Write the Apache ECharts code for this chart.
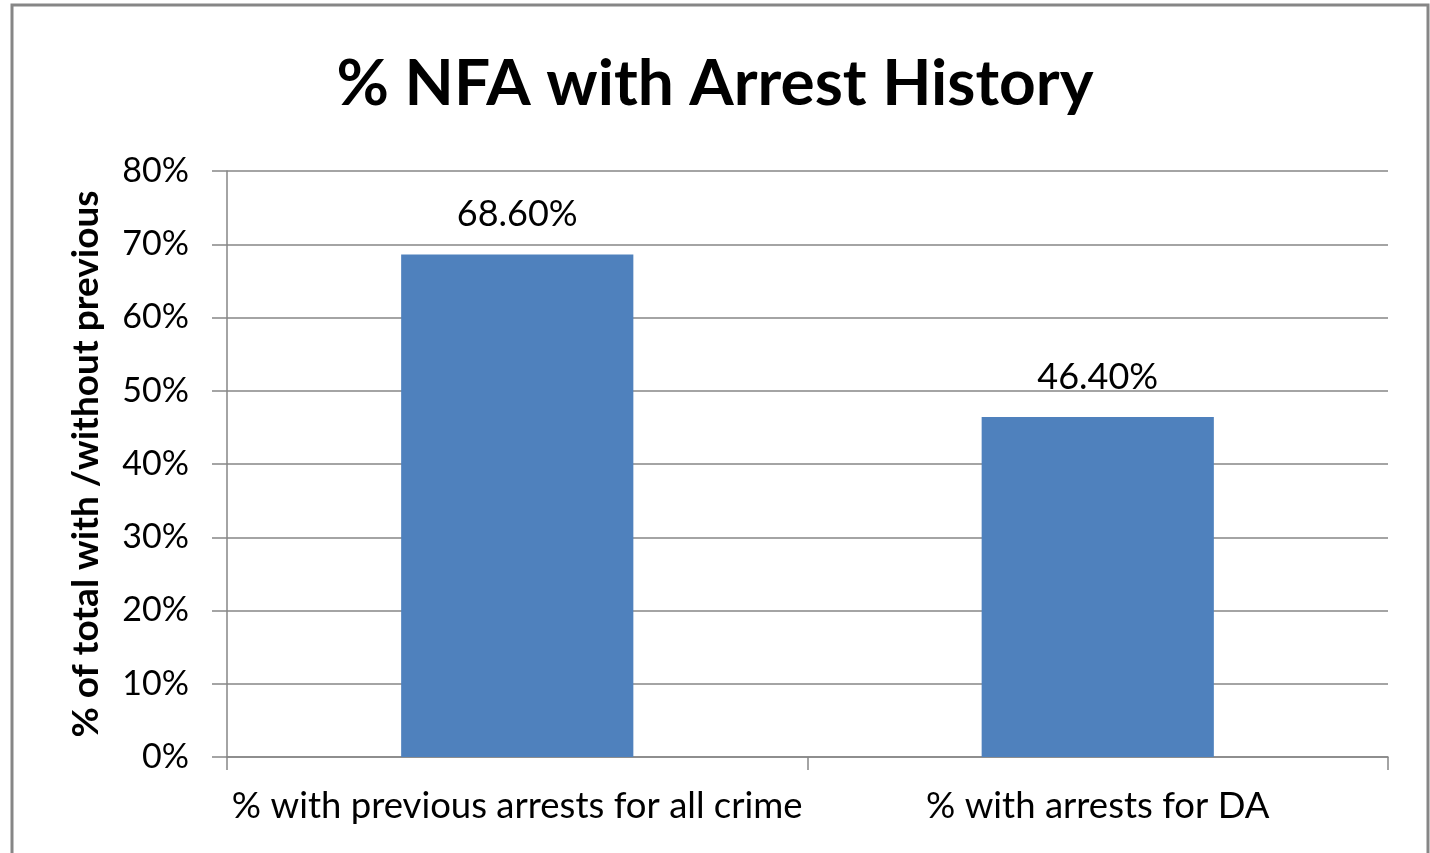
<!DOCTYPE html>
<html><head><meta charset="utf-8">
<script src="https://cdn.jsdelivr.net/npm/echarts@6/dist/echarts.min.js"></script>
<style>html,body{margin:0;padding:0;background:#fff;}#c{width:1430px;height:853px;}</style>
</head><body><div id="c"></div>
<script>
const categories = ['% with previous arrests for all crime', '% with arrests for DA'];
const values = [68.6, 46.4];
const titleText = '% NFA with Arrest History';
const yAxisName = '% of total with /without previous';
const FONT = 'Lato';
const chart = echarts.init(document.getElementById('c'));
chart.setOption({
  animation: false,
  backgroundColor: '#fff',
  graphic: [{type:'rect', shape:{x:12, y:5, width:1416, height:860}, style:{fill:'none', stroke:'#868686', lineWidth:3}, z:-1}],
  title: {text: titleText, left: 'center', top: 47, textStyle:{fontFamily:FONT, fontWeight:'bold', fontSize:64, color:'#000'}},
  grid: {left:227, right:42, top:171, bottom:96},
  xAxis: {type:'category', data:categories,
    axisLine:{lineStyle:{color:'#868686', width:1.5}},
    axisTick:{show:true, length:13, lineStyle:{color:'#868686', width:1.5}},
    axisLabel:{interval:0, fontFamily:FONT, fontSize:36.5, color:'#000', margin:31, hideOverlap:false}},
  yAxis: {type:'value', min:0, max:80, interval:10,
    name: yAxisName, nameLocation:'middle', nameGap:122, nameRotate:90,
    nameTextStyle:{fontFamily:FONT, fontWeight:'bold', fontSize:37, color:'#000'},
    axisLine:{show:true, lineStyle:{color:'#868686', width:1.5}},
    axisTick:{show:true, length:15, lineStyle:{color:'#868686', width:1.5}},
    axisLabel:{formatter:'{value}%', fontFamily:FONT, fontSize:34, color:'#000', margin:38},
    splitLine:{lineStyle:{color:'#868686', width:1.5}}},
  series: [{type:'bar', data:values, barWidth:'40%', itemStyle:{color:'#4F81BD'},
    label:{show:true, position:'top', distance:22, formatter: p => p.value.toFixed(2)+'%',
      fontFamily:FONT, fontSize:36, color:'#000'}}]
});
</script></body></html>
